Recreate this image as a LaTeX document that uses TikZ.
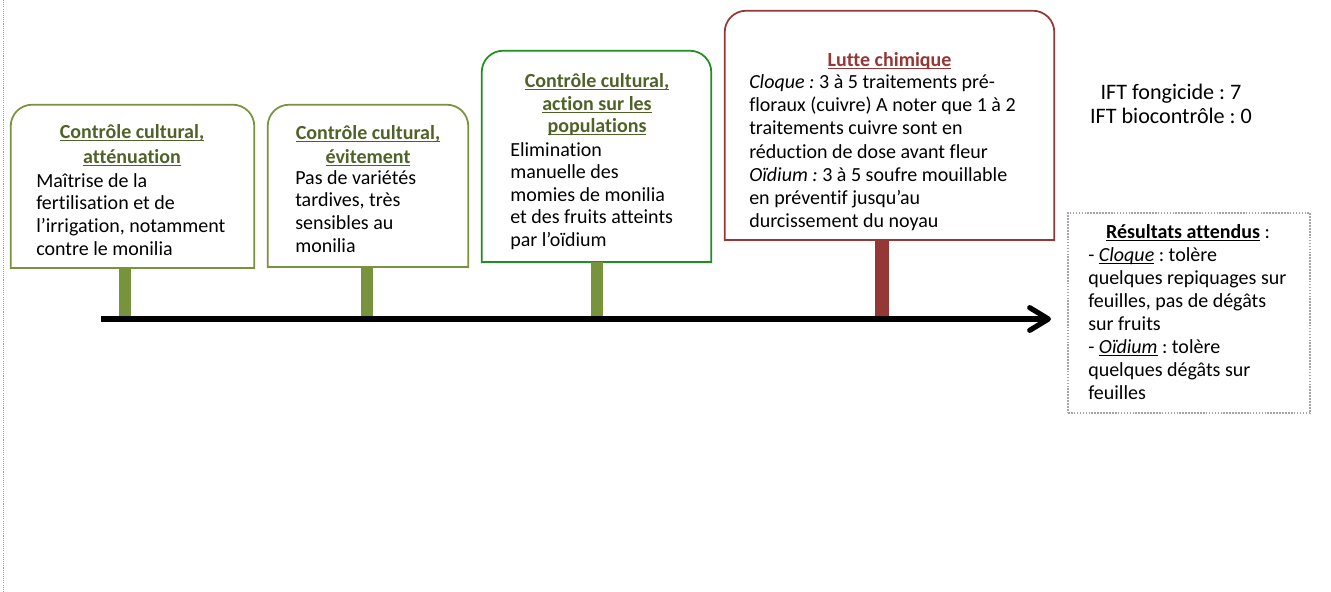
\documentclass[tikz,border=0pt]{standalone}
\usepackage{fontspec}
\setmainfont{Carlito}[Ligatures=NoCommon]
\usetikzlibrary{arrows.meta,fit}
\definecolor{olivebox}{HTML}{77933C}
\definecolor{olivetitle}{HTML}{4F6228}
\definecolor{greenbox}{HTML}{1F8F1F}
\definecolor{redbox}{HTML}{953735}
\definecolor{dotgray}{HTML}{A6A6A6}
\newcommand\myul[1]{\underline{\smash{#1}}}
\frenchspacing
\tikzset{
  boxfit/.style={inner sep=0pt, draw=none},
  tabline/.style={line width=1.3pt, rounded corners=16pt, line cap=rect},
  botline/.style={line width=1.3pt, line cap=rect},
  txt/.style={inner sep=0pt, anchor=base west, font=\fontsize{15pt}{17pt}\selectfont},
  ttl/.style={inner sep=0pt, anchor=base, font=\fontsize{15pt}{17pt}\selectfont},
  stemg/.style={line width=9.3pt, draw=olivebox},
  stemr/.style={line width=10.5pt, draw=redbox},
  timeline/.style={line width=3.9pt, -{Straight Barb[length=14pt,width=17pt,round]}},
}
\begin{document}
\frenchspacing
\begin{tikzpicture}[x=0.75pt,y=-0.75pt]
\useasboundingbox (0,0) rectangle (1331,592);
% left dotted margin line
\coordinate (m0) at (3.5,0);
\coordinate (m1) at (3.5,592);
\draw[dotgray, line width=0.8pt, dash pattern=on 0.8pt off 0.8pt] (m0) -- (m1);

% boxes
\node[boxfit, fit={(11,105) (254,268)}] (b1) {};
\node[boxfit, fit={(268,105) (468,267)}] (b2) {};
\node[boxfit, fit={(482,51) (711,262)}] (b3) {};
\node[boxfit, fit={(725,11) (1054,240)}] (b4) {};

\foreach \b/\c in {b1/olivebox, b2/olivebox, b3/greenbox, b4/redbox}{
  \draw[tabline, draw=\c] (\b.south west) -- (\b.north west) -- (\b.north east) -- (\b.south east);
  \draw[botline, draw=\c] (\b.south west) -- (\b.south east);
}

% timeline
\coordinate (tl0) at (101,319);
\coordinate (tl1) at (1051,319);
\coordinate (s1) at (125,318);
\coordinate (s2) at (367,318);
\coordinate (s3) at (597,318);
\coordinate (s4) at (882,317);
\draw[stemg] (b1.south -| s1) -- (s1);
\draw[stemg] (b2.south -| s2) -- (s2);
\draw[stemg] (b3.south -| s3) -- (s3);
\draw[stemr] (b4.south -| s4) -- (s4);
\draw[timeline] (tl0) -- (tl1);

% box 1
\node[ttl] (t1) at (132,138.5) {\parbox[t]{200pt}{\centering\color{olivetitle}\bfseries
  \myul{Contrôle cultural,}\\[1.5pt]\myul{atténuation}}};
\node[txt] (d1) at (36,187) {\parbox[t]{250pt}{\raggedright
  Maîtrise de la\\fertilisation et de\\l’irrigation, notamment\\contre le monilia}};

% box 2
\node[ttl] (t2) at (368,139) {\parbox[t]{200pt}{\centering\color{olivetitle}\bfseries
  \myul{Contrôle cultural,}\\[1.5pt]\myul{évitement}}};
\node[txt] (d2) at (295,184) {\parbox[t]{250pt}{\raggedright
  Pas de variétés\\tardives, très\\sensibles au\\monilia}};

% box 3
\node[ttl] (t3) at (597,87.5) {\parbox[t]{200pt}{\centering\color{olivetitle}\bfseries
  \myul{Contrôle cultural,}\\\myul{action sur les}\\\myul{populations}}};
\node[txt] (d3) at (510,156) {\parbox[t]{250pt}{\raggedright
  Elimination\\manuelle des\\momies de monilia\\et des fruits atteints\\par l’oïdium}};

% box 4
\node[ttl] (t4) at (889.5,66.5) {\parbox[t]{200pt}{\centering\color{redbox}\bfseries
  \myul{Lutte chimique}}};
\node[txt, font=\fontsize{15pt}{17.4pt}\selectfont] (d4) at (749,88.5) {\parbox[t]{300pt}{\raggedright
  \textit{Cloque :} 3 à 5 traitements pré-\\floraux (cuivre) A noter que 1 à 2\\traitements cuivre sont en\\réduction de dose avant fleur\\\textit{Oïdium :} 3 à 5 soufre mouillable\\en préventif jusqu’au\\durcissement du noyau}};

% IFT
\node[ttl, font=\fontsize{16.6pt}{18pt}\selectfont] (ift) at (1171,99.5) {\parbox[t]{200pt}{\centering
  IFT fongicide : 7\\IFT biocontrôle : 0}};

% results box
\node[boxfit, fit={(1068,213) (1310,413)}, draw=dotgray, line width=1.2pt, dash pattern=on 1.2pt off 1pt] (res) {};
\node[ttl] (rt) at (1188,238) {\parbox[t]{200pt}{\centering
  \textbf{\myul{Résultats attendus}} :}};
\node[txt, font=\fontsize{15pt}{17.2pt}\selectfont] (rd) at (1088,261.5) {\parbox[t]{250pt}{\raggedright
  - \textit{\myul{Cloque}} : tolère\\quelques repiquages sur\\feuilles, pas de dégâts\\sur fruits\\- \textit{\myul{Oïdium}} : tolère\\quelques dégâts sur\\feuilles}};
\end{tikzpicture}
\end{document}
